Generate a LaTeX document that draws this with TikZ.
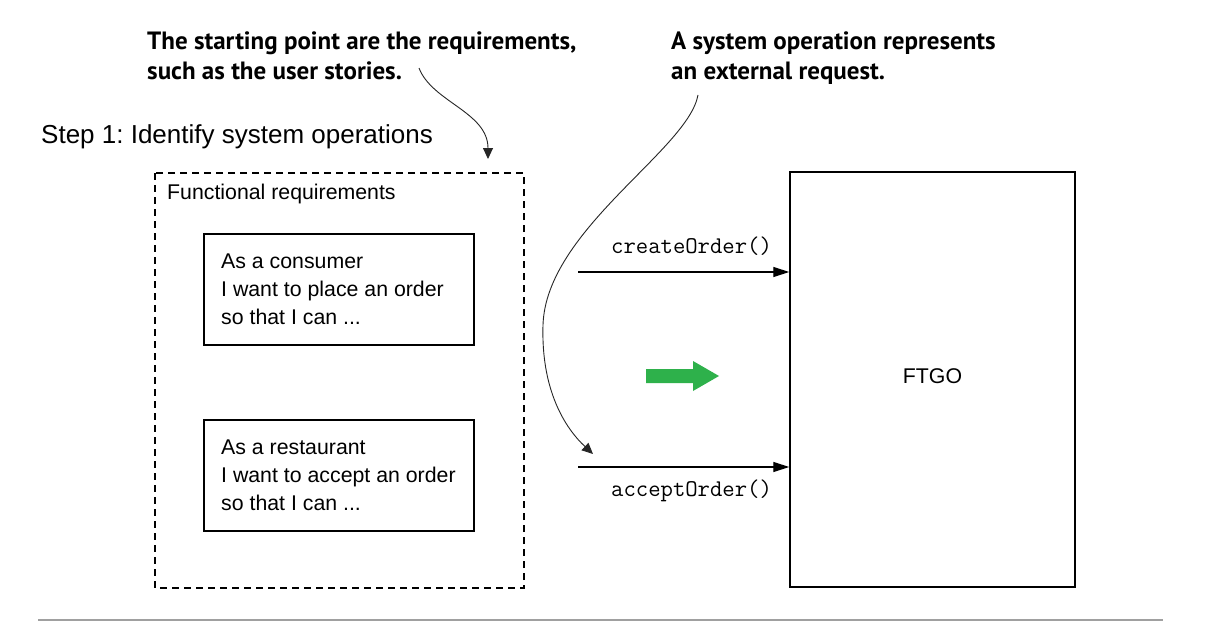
\documentclass[tikz,border=0pt]{standalone}
\usepackage{fontspec}
\setmainfont{Liberation Sans}
\newfontfamily\callfont{PT Sans}
\usetikzlibrary{arrows.meta}
\definecolor{arrowgreen}{RGB}{46,177,75}
\definecolor{rulegray}{RGB}{160,160,160}
\tikzset{
  body/.style={anchor=base west, inner sep=0pt, font=\fontsize{21.3}{25}\selectfont},
  mono/.style={anchor=base west, inner sep=0pt, font=\fontsize{24}{28}\ttfamily},
  callout/.style={anchor=base west, inner sep=0pt, font=\fontsize{25}{30}\callfont\bfseries},
  story/.style={draw, line width=1.2pt},
  calloutarrow/.style={draw=black!85, line width=0.9pt, -{Triangle[length=11pt,width=10pt]}},
  callarrow/.style={draw, line width=1.3pt, -{Triangle[length=16pt,width=10pt]}},
}
\begin{document}
\frenchspacing
\begin{tikzpicture}[x=1pt,y=-1pt]
\useasboundingbox (0,0) rectangle (1211,642);
\fill[white] (0,0) rectangle (1211,642);

% callouts
\node[callout] (c1a) at (147,50) {The starting point are the requirements,};
\node[callout] (c1b) at (147,80) {such as the user stories.};
\node[callout] (c2a) at (671,50) {A system operation represents};
\node[callout] (c2b) at (671,80) {an external request.};

\node[anchor=base west, inner sep=0pt, font=\fontsize{26}{30}\selectfont] (step) at (41,143) {Step 1: Identify system operations};

% functional requirements box
\draw[line width=1.2pt, dash pattern=on 7pt off 5pt] (155,173) rectangle (524,588);
\node[body] (fr) at (167,199) {Functional requirements};

\draw[story] (204,234) rectangle (474,345);
\node[body] (s1a) at (221,268.5) {As a consumer};
\node[body] (s1b) at (221,296.5) {I want to place an order};
\node[body] (s1c) at (221,324.5) {so that I can ...};

\draw[story] (204,420) rectangle (474,531);
\node[body] (s2a) at (221,454.5) {As a restaurant};
\node[body] (s2b) at (221,482.5) {I want to accept an order};
\node[body] (s2c) at (221,510.5) {so that I can ...};

% FTGO
\node[draw, line width=1.5pt, minimum width=285pt, minimum height=415pt, inner sep=0pt,
      text depth=6pt, font=\fontsize{21.3}{25}\selectfont] (ftgo) at (932.5,379.5) {FTGO};

% operations
\coordinate (op1) at (578,272);
\coordinate (op2) at (578,467);
\draw[callarrow] (op1) -- (ftgo.west |- op1);
\draw[callarrow] (op2) -- (ftgo.west |- op2);
\node[mono] (create) at (611,253) {createOrder()};
\node[mono] (accept) at (611,496) {acceptOrder()};

% green arrow
\fill[arrowgreen] (646,369) -- (693,369) -- (693,361) -- (719,376) -- (693,391) -- (693,383) -- (646,383) -- cycle;

% callout arrows
\coordinate (c1start) at (419,68);
\coordinate (c1end) at (488,159);
\draw[calloutarrow] (c1start) .. controls (432,102) and (488,112) .. (c1end);
\coordinate (c2start) at (698,95);
\coordinate (c2end) at (593,454);
\draw[calloutarrow] (c2start) .. controls (688,150) and (546,230) .. (543,325)
   .. controls (541,390) and (565,428) .. (c2end);

% bottom rule
\draw[rulegray, line width=2pt] (38,620) -- (1163,620);
\end{tikzpicture}
\end{document}
